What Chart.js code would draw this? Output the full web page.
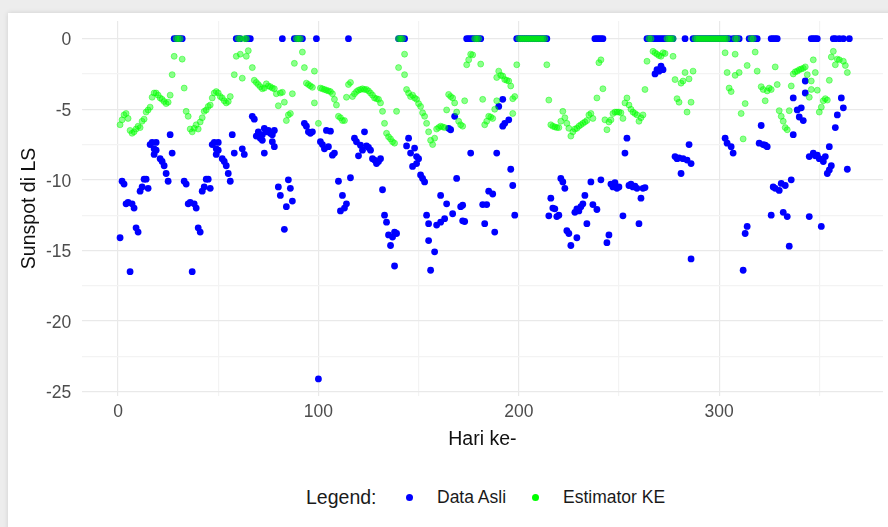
<!DOCTYPE html>
<html>
<head>
<meta charset="utf-8">
<script src="https://cdn.jsdelivr.net/npm/chart.js@4.4.1/dist/chart.umd.min.js"></script>
<style>
  html, body { margin: 0; padding: 0; width: 888px; height: 527px; overflow: hidden; background: #ededed; }
  body { font-family: "Liberation Sans", Arial, sans-serif; }
  #panel { position: absolute; left: 8px; top: 13px; width: 900px; height: 540px; background: #fff; box-shadow: 0 0 5px rgba(0,0,0,0.13); }
  #chart { position: absolute; left: 0; top: 0; }
  .lg { position: absolute; top: 497px; transform: translateY(-50%); white-space: nowrap; color: #1a1a1a; }
  .dot { position: absolute; top: 497px; width: 7px; height: 7px; margin: -3.5px 0 0 -3.5px; border-radius: 50%; }
</style>
</head>
<body>
<div id="panel"></div>
<canvas id="chart" width="888" height="460"></canvas>
<span class="lg" style="left:306px;font-size:19.5px">Legend:</span>
<span class="dot" style="left:409px;background:#0000ff"></span>
<span class="lg" style="left:437px;font-size:17.5px">Data Asli</span>
<span class="dot" style="left:535px;background:#00ff00"></span>
<span class="lg" style="left:563px;font-size:17.5px">Estimator KE</span>
<script>
// [hari, nilai]
var dataAsli = [
  [1,-14.1],[2,-10.1],[3,-10.3],[4,-11.7],[5,-11.6],[6,-16.5],[7,-11.7],[8,-12.0],[9,-13.4],[10,-13.7],
  [11,-10.8],[12,-10.5],[13,-9.95],[14,-9.95],[15,-10.6],[16,-7.5],[17,-7.35],[18,-7.8],[18,-8.2],[19,-7.35],
  [19,-7.9],[21,-8.5],[22,-8.7],[23,-9.0],[24,-9.55],[25,-10.1],[26,-6.8],[27,-8.1],
  [33,-10.1],[34,-10.3],[35,-11.7],[36,-11.6],[37,-16.5],[38,-11.7],[39,-12.0],[40,-13.4],[41,-13.7],
  [42,-10.8],[43,-10.5],[44,-9.95],[45,-9.95],[46,-10.6],[47,-7.5],[48,-7.35],[49,-7.8],[49,-8.2],[50,-7.35],
  [50,-7.9],[52,-8.5],[53,-8.7],[54,-9.0],[55,-9.55],[56,-10.1],[57,-6.8],[58,-8.1],
  [62,-7.8],[63,-8.2],[67,-5.5],[68,-5.7],[69,-6.9],[70,-6.6],[71,-7.05],[72,-6.8],[72,-7.2],[73,-8.1],
  [73,-6.35],[74,-6.6],[75,-6.5],[76,-6.7],[77,-6.8],[77,-7.3],[78,-6.5],[78,-7.65],
  [80,-10.5],[81,-11.1],[83,-13.5],[84,-11.9],[85,-10.0],[86,-10.6],[87,-11.5],
  [93,-6.0],[94,-6.2],[95,-6.6],[96,-6.7],[97,-6.6],[100,-24.1],
  [101,-7.3],[102,-7.5],[103,-7.8],[104,-6.5],[105,-7.65],[106,-6.55],[107,-8.25],[108,-8.1],
  [110,-10.1],[111,-12.2],[112,-11.1],[113,-12.0],[114,-11.7],[116,-9.85],
  [118,-7.05],[119,-7.3],[120,-8.3],[121,-7.55],[122,-7.9],[123,-6.6],[124,-7.6],[125,-7.7],[126,-7.9],
  [127,-8.5],[128,-8.6],[129,-8.85],[130,-8.7],[131,-8.5],[132,-10.7],
  [133,-12.5],[134,-13.0],[135,-13.9],[136,-14.65],[137,-14.05],[138,-13.7],[138,-16.1],[139,-13.8],
  [144,-7.6],[145,-7.05],[146,-8.1],[147,-9.05],[148,-7.75],[149,-8.35],[149,-8.85],[150,-8.5],
  [151,-9.65],[152,-9.9],[153,-10.15],[154,-12.5],[155,-13.1],[155,-14.3],[156,-16.4],[158,-15.1],
  [159,-13.2],[161,-11.1],[161,-13.0],[163,-12.75],[164,-11.7],[165,-6.35],[166,-6.45],[167,-12.4],
  [168,-5.5],[169,-9.9],[171,-11.9],[172,-11.8],[172,-12.9],[173,-12.95],[176,-8.1],
  [182,-11.75],[183,-13.1],[184,-11.75],[185,-10.8],[187,-11.0],[188,-13.7],[189,-8.1],[190,-4.8],
  [192,-4.3],[192,-6.2],[193,-6.0],[195,-5.75],[196,-9.25],[197,-10.4],[198,-12.5],
  [215,-12.55],[216,-11.3],[217,-12.0],[218,-12.05],[219,-12.6],[220,-12.5],[221,-9.9],[222,-10.15],
  [223,-10.6],[224,-13.6],[225,-13.8],[226,-14.65],[228,-12.3],[229,-14.1],[229,-12.05],
  [230,-12.2],[231,-11.9],[232,-11.7],[233,-11.1],[234,-13.1],[236,-10.15],[237,-11.75],[239,-12.1],
  [241,-10.0],[244,-14.45],[245,-13.9],[246,-10.3],[247,-10.5],[248,-10.2],[249,-10.6],[250,-10.5],
  [252,-12.55],[253,-8.1],[254,-7.05],[255,-10.4],[256,-10.3],[257,-10.5],[258,-10.45],[259,-10.6],
  [260,-13.1],[261,-11.3],[262,-10.6],[263,-10.55],
  [268,-2.5],[269,-2.2],[270,-2.3],[271,-1.95],[272,-2.2],
  [278,-8.35],[279,-8.5],[280,-8.45],[281,-9.55],[282,-8.5],[284,-8.6],[285,-7.5],[286,-8.85],[286,-15.6],
  [303,-7.05],[304,-7.4],[306,-7.65],[307,-8.1],[312,-16.4],[313,-13.8],[314,-13.3],
  [320,-7.4],[321,-6.15],[322,-7.5],[323,-7.55],[324,-7.65],
  [326,-12.5],[327,-10.5],[328,-10.6],[330,-10.75],[331,-10.25],[332,-12.3],[333,-10.4],[334,-12.6],
  [335,-14.7],[336,-10.0],[337,-6.8],[337,-4.2],[339,-5.05],[340,-5.55],[341,-4.9],[342,-5.8],
  [343,-3.0],[343,-3.85],[345,-8.35],[345,-12.6],[347,-8.1],[348,-8.3],[349,-8.25],[350,-8.5],
  [351,-13.3],[352,-8.7],[353,-8.35],[354,-9.55],[355,-9.3],[355,-7.65],[356,-9.0],
  [358,-6.3],[359,-5.4],[361,-4.2],[362,-4.9],[364,-9.25]
];
// hari dengan nilai 0
var hariNolAsli = [28,29,30,31,32, 59,60,61,64,65,66, 82, 88,89,90,91,92, 99, 115,
  140,141,142,143, 174,175,176,177,178,179,180,181,
  199,200,201,202,203,204,205,206,207,208,209,210,211,212,213,214,
  238,239,240,241,242, 264,265,266,267,268,269,270,271,272,273,274,275,276,277, 283,
  287,288,289,290,291,292,293,294,295,296,297,298,299,300,301,302,303,304,305,
  307,308,309,310, 315,316,317,318,319, 326,327,328,329, 346,347,348,349,
  357,358,360,362,365];

var estimatorKE = [
  [1,-6.1],[2,-5.75],[3,-5.4],[4,-5.3],[5,-5.65],[6,-6.5],[7,-6.7],[8,-6.6],[9,-6.4],[10,-6.2],
  [11,-6.3],[12,-5.85],[13,-5.7],[14,-5.2],[15,-5.05],[16,-4.85],[17,-4.15],[18,-3.85],[19,-3.85],[20,-4.0],
  [21,-4.2],[22,-4.3],[23,-4.45],[24,-4.6],[25,-4.5],[26,-4.0],[27,-2.55],[28,-1.25],[32,-1.45],[33,-3.5],
  [34,-5.15],[35,-5.5],[36,-6.4],[37,-6.6],[38,-6.35],[39,-6.1],[40,-6.4],[41,-5.9],[42,-5.6],[43,-5.15],
  [44,-5.05],[45,-4.8],[46,-4.7],[47,-4.2],[48,-3.85],[49,-3.75],[50,-3.85],[51,-4.1],[52,-4.2],[53,-4.4],
  [54,-4.55],[55,-4.45],[56,-4.1],[58,-2.55],[59,-1.25],[61,-1.1],[62,-2.8],[64,-1.25],[65,-0.85],[67,-2.05],
  [68,-2.95],[69,-3.1],[70,-3.25],[71,-3.4],[72,-3.55],[73,-3.5],[74,-3.2],[75,-3.35],[76,-3.4],[77,-3.5],
  [78,-3.55],[79,-3.9],[80,-4.75],[81,-3.85],[82,-3.8],[83,-4.5],[84,-5.8],[85,-5.4],[86,-5.3],[87,-3.9],[88,-1.75],
  [92,-0.95],[93,-2.05],[94,-3.15],[95,-3.25],[96,-3.35],[97,-3.45],[98,-2.3],[98,-4.55],[100,-6.0],
  [101,-3.5],[102,-3.55],[103,-3.6],[104,-3.65],[105,-3.7],[106,-3.75],[107,-3.9],[108,-4.3],[109,-4.7],
  [110,-5.5],[111,-5.6],[112,-5.8],[113,-5.8],[114,-4.15],[115,-3.25],[116,-3.1],[117,-4.1],[118,-3.9],
  [119,-3.75],[120,-3.65],[121,-3.6],[122,-3.55],[123,-3.6],[124,-3.6],[125,-3.7],[126,-3.85],[127,-4.0],
  [128,-4.2],[129,-4.25],[130,-4.3],[131,-4.55],[132,-5.15],[133,-6.0],[134,-6.7],[135,-6.95],[136,-7.1],
  [137,-7.3],[138,-7.4],[139,-5.15],[140,-2.05],[143,-1.1],[143,-2.55],
  [144,-3.6],[145,-3.85],[146,-4.1],[147,-4.0],[148,-4.2],[149,-4.3],[150,-4.6],[151,-4.8],[152,-5.25],
  [153,-5.5],[154,-6.0],[155,-6.6],[156,-7.2],[157,-7.5],[158,-7.05],[159,-6.4],[160,-6.3],[161,-6.2],
  [162,-6.25],[163,-6.3],[164,-5.05],[165,-3.95],[166,-4.1],[167,-4.2],[168,-4.55],[169,-5.2],[170,-5.85],
  [171,-6.1],[172,-6.2],[173,-4.4],[174,-1.85],[175,-1.5],[176,-1.1],[177,-1.15],[181,-1.8],
  [182,-4.3],[183,-6.1],[184,-5.85],[185,-5.5],[186,-5.55],[187,-5.65],[188,-5.0],[189,-4.4],[189,-2.75],
  [190,-2.3],[191,-2.6],[192,-2.65],[193,-2.9],[194,-2.95],[195,-3.0],[196,-3.35],[197,-4.25],[197,-5.3],
  [198,-4.1],[199,-1.85],[214,-1.85],[215,-4.35],
  [216,-6.1],[217,-6.2],[218,-6.25],[219,-6.3],[220,-6.3],[221,-5.85],[222,-5.15],[223,-5.6],[224,-6.0],
  [225,-6.35],[226,-6.9],[227,-6.6],[228,-6.4],[229,-6.35],[230,-6.2],[231,-6.1],[232,-6.0],[233,-5.9],
  [234,-5.8],[235,-5.4],[236,-5.3],[237,-5.65],[239,-4.2],[240,-1.7],[241,-1.5],[242,-3.55],
  [243,-5.75],[244,-6.45],[245,-5.9],[246,-5.75],[247,-5.3],[248,-5.2],[249,-5.2],[250,-5.2],[251,-5.25],
  [252,-5.65],[253,-4.55],[254,-4.2],[255,-4.7],[256,-5.0],[257,-5.2],[258,-5.3],[259,-5.4],[260,-5.85],
  [261,-5.6],[262,-5.4],[263,-3.6],[264,-1.6],[267,-0.9],[268,-1.0],[269,-1.1],[270,-1.2],[271,-1.25],
  [272,-1.0],[273,-1.05],[277,-1.25],[278,-2.9],[279,-4.25],[280,-4.5],[281,-3.15],[282,-3.0],[283,-2.4],
  [284,-5.2],[285,-2.85],[286,-4.5],[287,-2.3],
  [303,-1.0],[304,-2.4],[305,-3.5],[306,-3.75],[308,-2.6],[308,-1.1],[310,-2.4],[311,-5.3],[312,-7.1],
  [313,-4.6],[314,-1.9],[318,-0.95],[319,-2.3],[321,-3.4],[322,-3.6],[323,-4.4],[324,-3.7],[325,-3.5],
  [326,-3.6],[328,-2.0],[329,-3.25],[330,-5.1],[331,-5.5],[332,-5.85],[333,-6.3],[334,-6.45],
  [335,-5.1],[336,-3.35],[337,-2.5],[338,-2.35],[339,-2.3],[340,-2.2],[341,-2.15],[342,-2.1],[343,-2.0],
  [344,-2.55],[345,-4.15],[346,-3.0],[346,-3.6],[347,-1.5],[348,-2.4],[349,-3.65],[350,-5.2],
  [351,-4.85],[352,-4.4],[353,-4.25],[354,-4.35],[355,-2.95],[356,-1.3],[357,-0.9],[358,-1.85],
  [359,-1.45],[360,-1.5],[362,-1.6],[363,-1.9],[364,-2.4]
];
var hariNolKE = [29,30,31, 60,61,63,64, 89,90,91, 140,141,142, 178,179,180,
  200,201,202,203,204,205,206,207,208,209,210,211,212,213, 265,266, 274,275,276,277,
  288,289,290,291,292,293,294,295,296,297,298,299,300,301,302,303,304, 308,309, 316,317];

var xTicks = [0, 50, 100, 150, 200, 250, 300, 350];
var yTicks = [-25, -22.5, -20, -17.5, -15, -12.5, -10, -7.5, -5, -2.5, 0];

function toPoints(pairs, zeros) {
  return pairs.map(function (p) { return {x: p[0], y: p[1]}; })
    .concat(zeros.map(function (d) { return {x: d, y: 0}; }));
}

Chart.defaults.font.family = '"Liberation Sans", Arial, sans-serif';

var gridColor = function (major) {
  return function (c) { return (c.tick && c.tick.value % major === 0) ? '#e9e9e9' : '#f3f3f3'; };
};

new Chart(document.getElementById('chart'), {
  type: 'scatter',
  data: {
    datasets: [{
      label: 'Data Asli',
      data: toPoints(dataAsli, hariNolAsli),
      pointRadius: 3.4,
      pointBackgroundColor: '#0000ff',
      pointBorderWidth: 0,
      order: 2
    }, {
      label: 'Estimator KE',
      data: toPoints(estimatorKE, hariNolKE),
      pointRadius: 3,
      pointBackgroundColor: 'rgba(0,255,0,0.45)',
      pointBorderColor: 'rgba(0,255,0,0.45)',
      pointBorderWidth: 1,
      order: 1
    }]
  },
  options: {
    responsive: false,
    animation: false,
    layout: {padding: {top: 20.6, left: 0, right: 0, bottom: 0}},
    plugins: {legend: {display: false}, tooltip: {enabled: false}},
    scales: {
      x: {
        type: 'linear', min: -18.15, max: 381.8,
        afterBuildTicks: function (s) { s.ticks = xTicks.map(function (v) { return {value: v}; }); },
        afterFit: function (s) { s.height = 64.1; },
        grid: {color: gridColor(100), lineWidth: 1.2, drawTicks: false},
        border: {display: false},
        ticks: {
          padding: 6, color: '#4d4d4d', font: {size: 17.5}, maxRotation: 0, autoSkip: false,
          callback: function (v) { return v % 100 === 0 ? v : ''; }
        },
        title: {display: true, text: 'Hari ke-', color: '#111', font: {size: 19.5}, padding: {top: 0, bottom: 9}}
      },
      y: {
        type: 'linear', min: -25.3, max: 1.25,
        afterBuildTicks: function (s) { s.ticks = yTicks.map(function (v) { return {value: v}; }); },
        afterFit: function (s) { s.width = 81.7; },
        grid: {color: gridColor(5), lineWidth: 1.2, drawTicks: false},
        border: {display: false},
        ticks: {
          padding: 10.5, labelOffset: 2, color: '#4d4d4d', font: {size: 17.5}, autoSkip: false,
          callback: function (v) { return v % 5 === 0 ? v : ''; }
        },
        title: {display: true, text: 'Sunspot di LS', color: '#111', font: {size: 19.5}, padding: {top: 18.3, bottom: 0}}
      }
    }
  }
});
</script>
</body>
</html>
